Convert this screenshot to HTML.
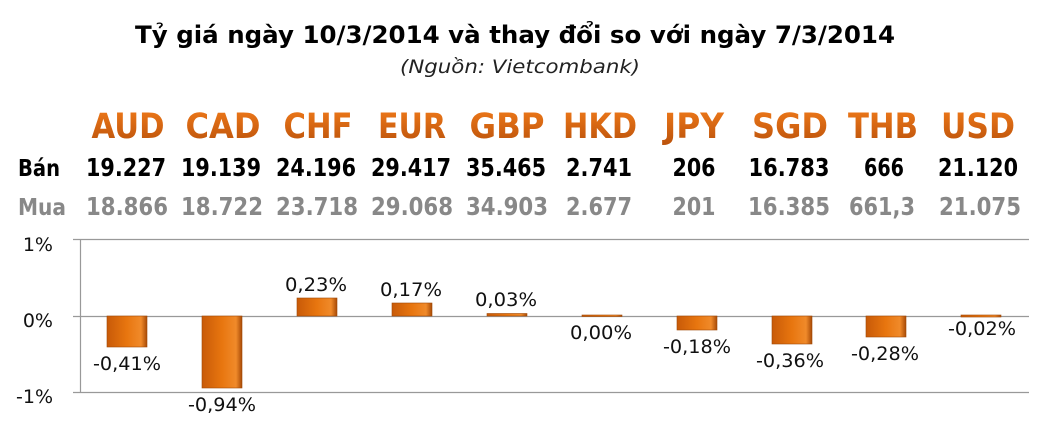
<!DOCTYPE html>
<html><head><meta charset="utf-8"><style>
body{margin:0;background:#fff;}
svg{display:block;font-family:"DejaVu Sans","Liberation Sans",sans-serif;}
</style></head><body>
<svg width="1046" height="439" viewBox="0 0 1046 439">
<defs>
<linearGradient id="og" x1="0" y1="0" x2="0" y2="1">
<stop offset="0" stop-color="#f07a1a"/><stop offset="1" stop-color="#b8500a"/>
</linearGradient>
<linearGradient id="bar" x1="0" y1="0" x2="1" y2="0">
<stop offset="0" stop-color="#c85a08"/><stop offset="0.5" stop-color="#e8760f"/><stop offset="0.85" stop-color="#f08a2a"/><stop offset="1" stop-color="#a84a06"/>
</linearGradient>
</defs>
<text x="515" y="43" text-anchor="middle" font-weight="bold" font-size="24" textLength="760" lengthAdjust="spacingAndGlyphs">Tỷ giá ngày 10/3/2014 và thay đổi so với ngày 7/3/2014</text>
<text x="520" y="73" text-anchor="middle" font-style="italic" font-size="19" fill="#222" textLength="240" lengthAdjust="spacingAndGlyphs">(Nguồn: Vietcombank)</text>
<text x="18" y="176" font-weight="bold" font-size="23" textLength="42" lengthAdjust="spacingAndGlyphs">Bán</text>
<text x="18" y="215" font-weight="bold" font-size="23" fill="#888" textLength="48" lengthAdjust="spacingAndGlyphs">Mua</text>
<g font-weight="bold" font-size="35" fill="url(#og)" text-anchor="middle">
<text x="128" y="138" textLength="73" lengthAdjust="spacingAndGlyphs">AUD</text>
<text x="223" y="138" textLength="75" lengthAdjust="spacingAndGlyphs">CAD</text>
<text x="318" y="138" textLength="69" lengthAdjust="spacingAndGlyphs">CHF</text>
<text x="412" y="138" textLength="68" lengthAdjust="spacingAndGlyphs">EUR</text>
<text x="507" y="138" textLength="75" lengthAdjust="spacingAndGlyphs">GBP</text>
<text x="600" y="138" textLength="74" lengthAdjust="spacingAndGlyphs">HKD</text>
<text x="694" y="138" textLength="60" lengthAdjust="spacingAndGlyphs">JPY</text>
<text x="790" y="138" textLength="76" lengthAdjust="spacingAndGlyphs">SGD</text>
<text x="883" y="138" textLength="70" lengthAdjust="spacingAndGlyphs">THB</text>
<text x="978" y="138" textLength="74" lengthAdjust="spacingAndGlyphs">USD</text>
</g>
<g font-weight="bold" font-size="25" text-anchor="middle">
<text x="126" y="176" textLength="80" lengthAdjust="spacingAndGlyphs">19.227</text>
<text x="221" y="176" textLength="80" lengthAdjust="spacingAndGlyphs">19.139</text>
<text x="316" y="176" textLength="80" lengthAdjust="spacingAndGlyphs">24.196</text>
<text x="411" y="176" textLength="80" lengthAdjust="spacingAndGlyphs">29.417</text>
<text x="506" y="176" textLength="80" lengthAdjust="spacingAndGlyphs">35.465</text>
<text x="599" y="176" textLength="66" lengthAdjust="spacingAndGlyphs">2.741</text>
<text x="694" y="176" textLength="43" lengthAdjust="spacingAndGlyphs">206</text>
<text x="789" y="176" textLength="81" lengthAdjust="spacingAndGlyphs">16.783</text>
<text x="884" y="176" textLength="40" lengthAdjust="spacingAndGlyphs">666</text>
<text x="978" y="176" textLength="80" lengthAdjust="spacingAndGlyphs">21.120</text>
</g>
<g font-weight="bold" font-size="25" text-anchor="middle" fill="#888">
<text x="127" y="215" textLength="82" lengthAdjust="spacingAndGlyphs">18.866</text>
<text x="222" y="215" textLength="82" lengthAdjust="spacingAndGlyphs">18.722</text>
<text x="317" y="215" textLength="82" lengthAdjust="spacingAndGlyphs">23.718</text>
<text x="412" y="215" textLength="82" lengthAdjust="spacingAndGlyphs">29.068</text>
<text x="507" y="215" textLength="82" lengthAdjust="spacingAndGlyphs">34.903</text>
<text x="599" y="215" textLength="66" lengthAdjust="spacingAndGlyphs">2.677</text>
<text x="694" y="215" textLength="43" lengthAdjust="spacingAndGlyphs">201</text>
<text x="789" y="215" textLength="82" lengthAdjust="spacingAndGlyphs">16.385</text>
<text x="882" y="215" textLength="66" lengthAdjust="spacingAndGlyphs">661,3</text>
<text x="980" y="215" textLength="82" lengthAdjust="spacingAndGlyphs">21.075</text>
</g>
<g stroke="#999" stroke-width="1.2">
<line x1="73" y1="239.5" x2="1029" y2="239.5"/>
<line x1="73" y1="316.5" x2="1029" y2="316.5"/>
<line x1="73" y1="392.5" x2="1029" y2="392.5"/>
<line x1="80.5" y1="239" x2="80.5" y2="392"/>
</g>
<g font-size="19" fill="#111" text-anchor="end">
<text x="53" y="251">1%</text>
<text x="53" y="327">0%</text>
<text x="53" y="403">-1%</text>
</g>
<g fill="url(#bar)" stroke="#a04806" stroke-width="0.6">
<rect x="107" y="316" width="40" height="31"/>
<rect x="202" y="316" width="40" height="72"/>
<rect x="297" y="298" width="40" height="18"/>
<rect x="392" y="303" width="40" height="13"/>
<rect x="487" y="313.5" width="40" height="2.5"/>
<rect x="582" y="315" width="40" height="1.5"/>
<rect x="677" y="316" width="40" height="14"/>
<rect x="772" y="316" width="40" height="28"/>
<rect x="866" y="316" width="40" height="21"/>
<rect x="961" y="315" width="40" height="2"/>
</g>
<g font-size="19" fill="#111" text-anchor="middle">
<text x="127" y="370" textLength="68" lengthAdjust="spacingAndGlyphs">-0,41%</text>
<text x="222" y="411" textLength="68" lengthAdjust="spacingAndGlyphs">-0,94%</text>
<text x="316" y="291" textLength="62" lengthAdjust="spacingAndGlyphs">0,23%</text>
<text x="411" y="296" textLength="62" lengthAdjust="spacingAndGlyphs">0,17%</text>
<text x="506" y="306" textLength="62" lengthAdjust="spacingAndGlyphs">0,03%</text>
<text x="601" y="339" textLength="62" lengthAdjust="spacingAndGlyphs">0,00%</text>
<text x="697" y="353" textLength="68" lengthAdjust="spacingAndGlyphs">-0,18%</text>
<text x="790" y="367" textLength="68" lengthAdjust="spacingAndGlyphs">-0,36%</text>
<text x="885" y="360" textLength="68" lengthAdjust="spacingAndGlyphs">-0,28%</text>
<text x="982" y="335" textLength="68" lengthAdjust="spacingAndGlyphs">-0,02%</text>
</g>
</svg>
</body></html>
